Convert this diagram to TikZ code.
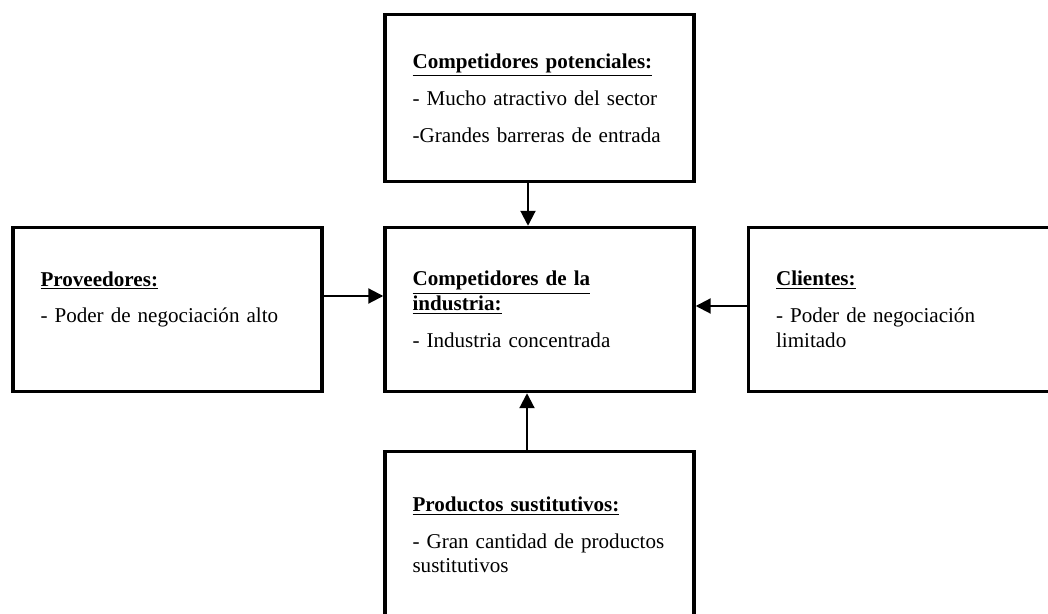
\documentclass[tikz,border=0pt]{standalone}
\usepackage{fontspec}
\setmainfont{Liberation Serif}
\usepackage{tikz}
\usetikzlibrary{arrows.meta}

\begin{document}
\begin{tikzpicture}[
  x=0.02cm, y=-0.02cm, font=\fontsize{12}{14}\selectfont,
  force/.style={draw=black, line width=2pt, minimum width=6.18cm, minimum height=3.28cm,
                text width=5.08cm, align=left, inner xsep=0.55cm, inner ysep=0pt},
  tall/.style={force, minimum height=3.34cm},
  arr/.style={-{Triangle[length=0.3cm, width=0.3cm]}, line width=1.2pt, draw=black}
]
\useasboundingbox (0,0) rectangle (1048,614);

% central column
\node[tall]  (pot) at (539.5,98)    {\underline{\textbf{Competidores potenciales:}}\\[7pt]
                                     - Mucho atractivo del sector\\[7pt]
                                     -Grandes barreras de entrada};
\node[force] (ind) at (539.5,309.5) {\underline{\textbf{Competidores de la}}\\
                                     \underline{\textbf{industria:}}\\[7pt]
                                     - Industria concentrada};
\node[tall]  (sus) at (539.5,535)   {\underline{\textbf{Productos sustitutivos:}}\\[7pt]
                                     - Gran cantidad de productos\\
                                     sustitutivos};

% side boxes
\node[force] (prov) at (167.5,309.5) {\underline{\textbf{Proveedores:}}\\[7pt]
                                      - Poder de negociación alto\\ ~};
\node[force] (cli)  at (903,309.5)   {\underline{\textbf{Clientes:}}\\[7pt]
                                      - Poder de negociación\\
                                      limitado};

% arrows
\draw[arr] ([xshift=-0.23cm]pot.south) -- ([xshift=-0.23cm]ind.north);
\draw[arr] ([yshift=0.27cm]prov.east)  -- ([yshift=0.27cm]ind.west);
\draw[arr] ([yshift=0.07cm]cli.west)   -- ([yshift=0.07cm]ind.east);
\draw[arr] ([xshift=-0.25cm]sus.north) -- ([xshift=-0.25cm]ind.south);
\end{tikzpicture}
\end{document}
